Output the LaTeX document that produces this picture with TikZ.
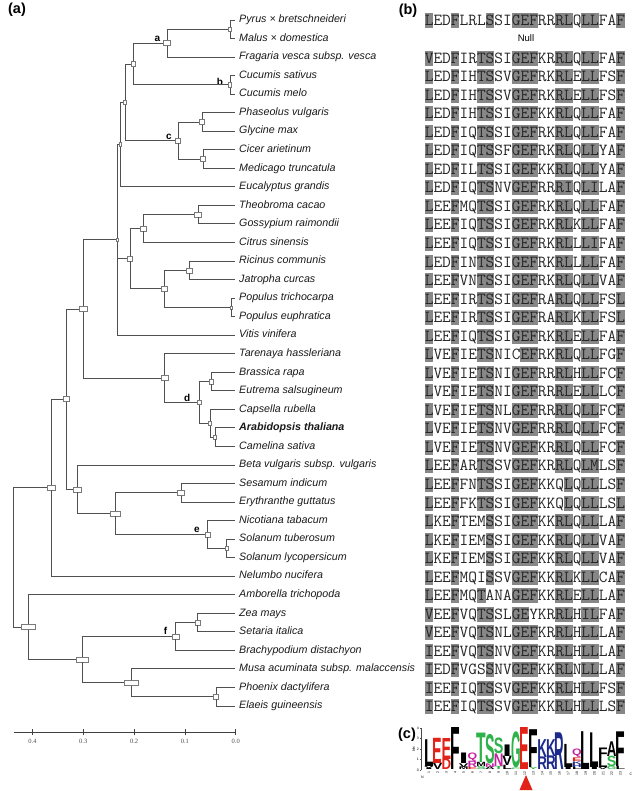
\documentclass[tikz,border=0pt]{standalone}
\usepackage{fontspec}
\setmainfont{Liberation Sans}
\newfontfamily\scalefont{Liberation Serif}
\usetikzlibrary{positioning}

\definecolor{branchgray}{HTML}{505050}
\definecolor{boxgray}{HTML}{7A7A7A}
\definecolor{shadegray}{HTML}{878787}
\definecolor{lgred}{HTML}{E2231A}
\definecolor{lggreen}{HTML}{2DB34A}
\definecolor{lgblue}{HTML}{1B2A8C}
\definecolor{lgpurple}{HTML}{C4219F}

\tikzset{
  branch/.style={draw=branchgray, line width=0.9pt},
  nb/.style={draw=boxgray, fill=white, line width=0.5pt, inner sep=0pt, minimum width=5pt, minimum height=5pt},
  taxon/.style={anchor=west, inner ysep=0pt, inner xsep=4pt, text height=7.7pt, text depth=2.2pt, text=black!90, font=\fontsize{10.7}{12}\selectfont\itshape},
  cladelab/.style={anchor=base, inner sep=0pt, font=\fontsize{10}{12}\selectfont\bfseries},
  panel/.style={inner sep=0pt, font=\fontsize{14.5}{16}\selectfont\bfseries},
  scaleaxis/.style={draw=black!75, line width=0.8pt},
  ticklab/.style={inner sep=0pt, text=black!70, font=\fontsize{6.5}{7}\selectfont\scalefont},
  shadecell/.style={fill=shadegray},
  seqtext/.style={anchor=base west, inner sep=0pt, text=black!85, font=\fontsize{16.9}{17}\selectfont\ttfamily},
  nulltext/.style={inner sep=0pt, font=\fontsize{9.5}{11}\selectfont},
  logoletter/.style={anchor=south, inner sep=0pt, font=\bfseries},
  logoaxis/.style={draw=black!70, line width=0.3pt},
  logotick/.style={inner sep=0pt, font=\fontsize{3.5}{4}\selectfont},
}

% shaded columns of the alignment
\newcommand{\shadeall}{1,4,7,8,11,12,13,16,17,19,20,23}
\newcommand{\shadenoT}{1,4,8,11,12,13,16,17,19,20,23}
\newcommand{\shadenoS}{1,4,7,11,12,13,16,17,19,20,23}
\newcommand{\shadenoG}{1,4,7,8,12,13,16,17,19,20,23}
\newcommand{\shadenoF}{1,4,7,8,11,12,16,17,19,20,23}
\newcommand{\shadenoR}{1,4,7,8,11,12,13,17,19,20,23}
\newlength{\seqw}
\AtBeginDocument{\settowidth{\seqw}{\fontsize{16.9}{17}\selectfont\ttfamily M}}

% one row of the alignment: row, residues, shaded columns
\newcommand{\seqrow}[3]{%
  \pgfmathsetmacro{\rowy}{20+(#1-1)*18.54}
  \foreach \col in #3{
    \fill[shadecell] ({424.6+(\col-1)*\seqw},{\rowy-6.5}) rectangle ++(\seqw,15);
  }
  \node[seqtext] (seq#1) at (424.6,{\rowy+6}) {#2};
}

\begin{document}
\begin{tikzpicture}[x=1pt,y=-1pt]
\useasboundingbox (0,0) rectangle (640,791);

% panel labels
\node[panel] (pa) at (17,9.5) {(a)};
\node[panel] (pb) at (408,10.5) {(b)};
\node[panel] (pc) at (407,735) {(c)};

% taxa
\node[taxon] (Pyrus) at (235,20.00) {Pyrus × bretschneideri};
\node[taxon] (Malus) at (235,38.54) {Malus × domestica};
\node[taxon] (Fragaria) at (235,57.08) {Fragaria vesca subsp. vesca};
\node[taxon] (Csat) at (235,75.62) {Cucumis sativus};
\node[taxon] (Cmelo) at (235,94.16) {Cucumis melo};
\node[taxon] (Phaseolus) at (235,112.70) {Phaseolus vulgaris};
\node[taxon] (Glycine) at (235,131.24) {Glycine max};
\node[taxon] (Cicer) at (235,149.78) {Cicer arietinum};
\node[taxon] (Medicago) at (235,168.32) {Medicago truncatula};
\node[taxon] (Eucalyptus) at (235,186.86) {Eucalyptus grandis};
\node[taxon] (Theobroma) at (235,205.40) {Theobroma cacao};
\node[taxon] (Gossypium) at (235,223.94) {Gossypium raimondii};
\node[taxon] (Citrus) at (235,242.48) {Citrus sinensis};
\node[taxon] (Ricinus) at (235,261.02) {Ricinus communis};
\node[taxon] (Jatropha) at (235,279.56) {Jatropha curcas};
\node[taxon] (Ptri) at (235,298.10) {Populus trichocarpa};
\node[taxon] (Peup) at (235,316.64) {Populus euphratica};
\node[taxon] (Vitis) at (235,335.18) {Vitis vinifera};
\node[taxon] (Tarenaya) at (235,353.72) {Tarenaya hassleriana};
\node[taxon] (Brassica) at (235,372.26) {Brassica rapa};
\node[taxon] (Eutrema) at (235,390.80) {Eutrema salsugineum};
\node[taxon] (Capsella) at (235,409.34) {Capsella rubella};
\node[taxon, font=\fontsize{10.7}{12}\selectfont\bfseries\itshape] (Arabidopsis) at (235,427.88) {Arabidopsis thaliana};
\node[taxon] (Camelina) at (235,446.42) {Camelina sativa};
\node[taxon] (Beta) at (235,464.96) {Beta vulgaris subsp. vulgaris};
\node[taxon] (Sesamum) at (235,483.50) {Sesamum indicum};
\node[taxon] (Erythranthe) at (235,502.04) {Erythranthe guttatus};
\node[taxon] (Nicotiana) at (235,520.58) {Nicotiana tabacum};
\node[taxon] (Stub) at (235,539.12) {Solanum tuberosum};
\node[taxon] (Slyc) at (235,557.66) {Solanum lycopersicum};
\node[taxon] (Nelumbo) at (235,576.20) {Nelumbo nucifera};
\node[taxon] (Amborella) at (235,594.74) {Amborella trichopoda};
\node[taxon] (Zea) at (235,613.28) {Zea mays};
\node[taxon] (Setaria) at (235,631.82) {Setaria italica};
\node[taxon] (Brachypodium) at (235,650.36) {Brachypodium distachyon};
\node[taxon] (Musa) at (235,668.90) {Musa acuminata subsp. malaccensis};
\node[taxon] (Phoenix) at (235,687.44) {Phoenix dactylifera};
\node[taxon] (Elaeis) at (235,705.98) {Elaeis guineensis};

% internal nodes
\node[nb, minimum width=3pt, minimum height=4pt] (pm) at (230,29.27) {};
\node[nb, minimum width=7pt] (a) at (167,43.18) {};
\node[nb, minimum width=3pt] (b) at (230,84.89) {};
\node[nb, minimum width=4pt] (ab) at (133,64.03) {};
\node[nb] (pg) at (202,121.97) {};
\node[nb] (cm) at (203,159.05) {};
\node[nb] (c) at (178,140.51) {};
\node[nb, minimum width=3pt, minimum height=4pt] (abc) at (125,102.27) {};
\node[nb, minimum width=2pt, minimum height=4pt] (r1) at (120,144.57) {};
\node[nb, minimum width=2pt, minimum height=3pt] (r2) at (117.5,239.88) {};
\node[nb, minimum width=7pt] (tg) at (198,214.67) {};
\node[nb, minimum width=6pt] (mc) at (143,228.58) {};
\node[nb, minimum width=6pt] (rj) at (189,270.29) {};
\node[nb, minimum width=2pt, minimum height=3pt] (pop) at (231,307.37) {};
\node[nb, minimum width=6pt] (rp) at (164,288.83) {};
\node[nb] (malv) at (130,258.70) {};
\node[nb, minimum width=4pt] (be) at (211,381.53) {};
\node[nb, minimum width=3pt, minimum height=4pt] (ac) at (215,437.15) {};
\node[nb, minimum width=3pt, minimum height=4pt] (cap) at (210,423.25) {};
\node[nb, minimum width=4pt, minimum height=4pt] (d) at (199.3,402.39) {};
\node[nb, minimum width=7pt] (tar) at (164.3,378.06) {};
\node[nb, minimum width=8pt] (ros) at (83,308.97) {};
\node[nb, minimum width=7pt] (se) at (181,492.77) {};
\node[nb, minimum width=3pt, minimum height=4pt] (sol) at (226.7,548.39) {};
\node[nb] (e) at (207.7,534.49) {};
\node[nb, minimum width=10pt] (ast) at (115.7,513.63) {};
\node[nb, minimum width=8pt] (ba) at (77.7,489.30) {};
\node[nb, minimum width=6pt] (core) at (66.7,399.13) {};
\node[nb, minimum width=8pt] (eud) at (51.7,487.67) {};
\node[nb] (zs) at (197.7,622.55) {};
\node[nb, minimum width=7pt] (f) at (175.7,636.46) {};
\node[nb] (pe) at (216,696.71) {};
\node[nb, minimum width=14pt] (mp) at (131,682.80) {};
\node[nb, minimum width=12pt] (mono) at (82.3,659.63) {};
\node[nb, minimum width=14pt] (am) at (28.3,627.19) {};
\coordinate (root) at (13.3,557.43);

% clade letters
\node[cladelab] (la) at (157.5,42) {a};
\node[cladelab] (lb) at (220,85.5) {b};
\node[cladelab] (lc) at (169,140) {c};
\node[cladelab] (ld) at (187.3,401.5) {d};
\node[cladelab] (le) at (196.8,532.5) {e};
\node[cladelab] (lf) at (165.5,634.5) {f};

% branches
\draw[branch] (pm) |- (Pyrus) (pm) |- (Malus);
\draw[branch] (a) |- (pm) (a) |- (Fragaria);
\draw[branch] (b) |- (Csat) (b) |- (Cmelo);
\draw[branch] (ab) |- (a) (ab) |- (b);
\draw[branch] (pg) |- (Phaseolus) (pg) |- (Glycine);
\draw[branch] (cm) |- (Cicer) (cm) |- (Medicago);
\draw[branch] (c) |- (pg) (c) |- (cm);
\draw[branch] (abc) |- (ab) (abc) |- (c);
\draw[branch] (r1) |- (abc) (r1) |- (Eucalyptus);
\draw[branch] (tg) |- (Theobroma) (tg) |- (Gossypium);
\draw[branch] (mc) |- (tg) (mc) |- (Citrus);
\draw[branch] (rj) |- (Ricinus) (rj) |- (Jatropha);
\draw[branch] (pop) |- (Ptri) (pop) |- (Peup);
\draw[branch] (rp) |- (rj) (rp) |- (pop);
\draw[branch] (malv) |- (mc) (malv) |- (rp);
\draw[branch] (r2) |- (r1) (r2) |- (malv) (r2) |- (Vitis);
\draw[branch] (be) |- (Brassica) (be) |- (Eutrema);
\draw[branch] (ac) |- (Arabidopsis) (ac) |- (Camelina);
\draw[branch] (cap) |- (Capsella) (cap) |- (ac);
\draw[branch] (d) |- (be) (d) |- (cap);
\draw[branch] (tar) |- (Tarenaya) (tar) |- (d);
\draw[branch] (ros) |- (r2) (ros) |- (tar);
\draw[branch] (se) |- (Sesamum) (se) |- (Erythranthe);
\draw[branch] (sol) |- (Stub) (sol) |- (Slyc);
\draw[branch] (e) |- (Nicotiana) (e) |- (sol);
\draw[branch] (ast) |- (se) (ast) |- (e);
\draw[branch] (ba) |- (Beta) (ba) |- (ast);
\draw[branch] (core) |- (ros) (core) |- (ba);
\draw[branch] (eud) |- (core) (eud) |- (Nelumbo);
\draw[branch] (zs) |- (Zea) (zs) |- (Setaria);
\draw[branch] (f) |- (zs) (f) |- (Brachypodium);
\draw[branch] (pe) |- (Phoenix) (pe) |- (Elaeis);
\draw[branch] (mp) |- (Musa) (mp) |- (pe);
\draw[branch] (mono) |- (f) (mono) |- (mp);
\draw[branch] (am) |- (Amborella) (am) |- (mono);
\draw[branch] (root) |- (eud) (root) |- (am);

% scale
\draw[scaleaxis] (13.7,732) -- (235.7,732);
\foreach \v [count=\i] in {0.4,0.3,0.2,0.1,0.0}{
  \draw[scaleaxis] ({235.7-\v*508},729) -- ({235.7-\v*508},735);
  \node[ticklab] (tick\i) at ({235.7-\v*508},741.5) {\v};
}

% alignment
\seqrow{1}{LEDFLRLSSIGEFRRRLQLLFAF}{\shadenoT}
\node[nulltext] (null) at (526,38.5) {Null};
\seqrow{3}{VEDFIRTSSIGEFKRRLQLLFAF}{\shadeall}
\seqrow{4}{LEDFIHTSSVGEFRKRLELLFSF}{\shadeall}
\seqrow{5}{LEDFIHTSSVGEFRKRLELLFSF}{\shadeall}
\seqrow{6}{LEDFIHTSSIGEFKKRLQLLFAF}{\shadeall}
\seqrow{7}{LEDFIQTSSIGEFRKRLQLLFAF}{\shadeall}
\seqrow{8}{LEDFIQTSSFGEFRKRLQLLYAF}{\shadeall}
\seqrow{9}{LEDFILTSSIGEFKKRLQLLYAF}{\shadeall}
\seqrow{10}{LEDFIQTSNVGEFRRRIQLILAF}{\shadeall}
\seqrow{11}{LEEFMQTSSIGEFRKRLQLLFAF}{\shadeall}
\seqrow{12}{LEEFIQTSSIGEFRKRLKLLFAF}{\shadeall}
\seqrow{13}{LEEFIQTSSIGEFRKRLLLIFAF}{\shadeall}
\seqrow{14}{LEDFINTSSIGEFRKRLLLLFAF}{\shadeall}
\seqrow{15}{LEEFVNTSSIGEFRKRLQLLVAF}{\shadeall}
\seqrow{16}{LEEFIRTSSIGEFRARLQLLFSL}{\shadeall}
\seqrow{17}{LEEFIRTSSIGEFRARLKLLFSL}{\shadeall}
\seqrow{18}{LEEFIQTSSIGEFRKRLELLFAF}{\shadeall}
\seqrow{19}{LVEFIETSNICEFRKRLQLLFGF}{\shadenoG}
\seqrow{20}{LVEFIETSNIGEFRRRLHLLFCF}{\shadeall}
\seqrow{21}{LVEFIETSNIGEFRRRLELLLCF}{\shadeall}
\seqrow{22}{LVEFIETSNLGEFRRRLQLLFCF}{\shadeall}
\seqrow{23}{LVEFIETSNVGEFRRRLQLLFCF}{\shadeall}
\seqrow{24}{LVEFIETSNVGEFKRRLQLLFCF}{\shadeall}
\seqrow{25}{LEEFARTSSVGEFKRRLQLMLSF}{\shadeall}
\seqrow{26}{LEEFFNTSSIGEFKKQLQLLLSF}{\shadenoR}
\seqrow{27}{LEEFFKTSSIGEFKKQLQLLLSL}{\shadenoR}
\seqrow{28}{LKEFTEMSSIGEFKKRLQLLLAF}{\shadenoT}
\seqrow{29}{LKEFIEMSSIGEFKKRLQLLVAF}{\shadenoT}
\seqrow{30}{LKEFIEMSSIGEFKKRLQLLVAF}{\shadenoT}
\seqrow{31}{LEEFMQISSVGEFKKRLKLLCAF}{\shadenoT}
\seqrow{32}{LEEFMQTANAGEFKKRLELLLAF}{\shadenoS}
\seqrow{33}{VEEFVQTSSLGEYKRRLHILFAF}{\shadenoF}
\seqrow{34}{VEEFVQTSNLGEFKRRLHLLLAF}{\shadeall}
\seqrow{35}{IEEFVQTSNVGEFKRRLHLLLAF}{\shadeall}
\seqrow{36}{IEDFVGSSNVGEFKKRLNLLLAF}{\shadenoT}
\seqrow{37}{IEEFIQTSSVGEFKKRLHLLFSF}{\shadeall}
\seqrow{38}{IEEFIQTSSVGEFKKRLHLLLSF}{\shadeall}

% sequence logo
\draw[logoaxis] (421,728) -- (421,770);
\foreach \b in {0,...,4}{
  \draw[logoaxis] (421,{770-10.5*\b}) -- (419.5,{770-10.5*\b});
  \node[logotick] (bt\b) at (417.8,{770-10.5*\b}) {\b};
}
\node[logotick, rotate=90] (bits) at (413.5,749) {bits};
\foreach \col/\base/\hgt/\ch/\clr [count=\n] in {
  1/0/0.12/I/black, 1/0.12/0.2/V/black, 1/0.32/2.55/L/black,
  2/0/0.6/V/black, 2/0.6/2.4/E/lgred,
  3/0/1.0/D/lgred, 3/1.0/2.0/E/lgred,
  4/0/4.0/F/black,
  5/0/0.25/M/black, 5/0.25/0.35/V/black, 5/0.6/1.0/I/black,
  6/0/0.2/E/lgred, 6/0.2/0.6/R/lgpurple, 6/0.8/0.8/Q/lgpurple,
  7/0/0.3/S/lggreen, 7/0.3/0.4/M/black, 7/0.7/2.8/T/lggreen,
  8/0/0.25/A/black, 8/0.25/0.35/N/lgpurple, 8/0.6/2.8/S/lggreen,
  9/0/0.3/T/lggreen, 9/0.3/1.2/N/lgpurple, 9/1.5/1.5/S/lggreen,
  10/0/0.4/L/black, 10/0.4/0.9/V/black, 10/1.3/1.1/I/black,
  11/0/0.15/C/lggreen, 11/0.15/3.45/G/lggreen,
  12/0/4.0/E/lgred,
  13/0/0.2/Y/lggreen, 13/0.2/3.6/F/black,
  14/0/1.2/R/lgblue, 14/1.2/1.7/K/lgblue,
  15/0/1.3/R/lgblue, 15/1.3/1.6/K/lgblue,
  16/0/3.5/R/lgblue,
  17/0/0.2/I/black, 17/0.2/2.2/L/black,
  18/0/0.25/L/black, 18/0.25/0.3/H/lgblue, 18/0.55/0.25/K/lgblue, 18/0.8/0.35/E/lgred, 18/1.15/0.8/Q/lgpurple,
  19/0/3.6/L/black,
  20/0/0.2/I/black, 20/0.2/3.3/L/black,
  21/0/0.2/V/black, 21/0.2/0.9/L/black, 21/1.1/1.0/F/black,
  22/0/0.3/G/lggreen, 22/0.3/1.0/S/lggreen, 22/1.3/1.4/A/black,
  23/0/0.3/L/black, 23/0.3/3.3/F/black}{
  \pgfmathsetmacro{\lx}{424.6+(\col-0.5)*\seqw}
  \pgfmathsetmacro{\ly}{770-10.5*\base}
  \pgfmathsetmacro{\lh}{10.5*\hgt}
  \node[logoletter, text=\clr] (lg\n) at (\lx,\ly) {\resizebox*{9.6pt}{\lh pt}{\ch}};
}
\foreach \i in {1,...,23}{
  \node[logotick, rotate=90, anchor=east] (pn\i) at ({424.6+(\i-0.5)*\seqw},771.5) {\i};
}
\node[logotick] (nterm) at (422.5,777) {N};
\node[logotick] (cterm) at (631,774) {C};
\fill[lgred] (526,775) -- (532.5,790) -- (519.5,790) -- cycle;
\end{tikzpicture}
\end{document}
